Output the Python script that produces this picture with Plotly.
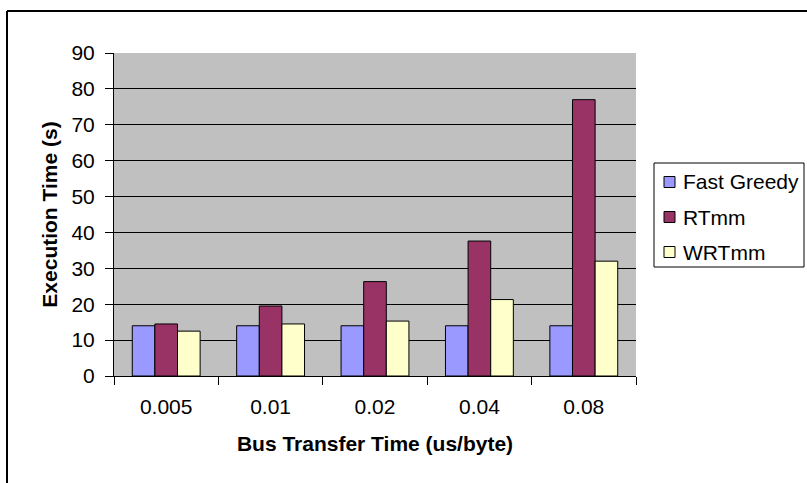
import plotly.graph_objects as go

# Bus transfer time categories (us/byte)
categories = ["0.005", "0.01", "0.02", "0.04", "0.08"]

# Execution time (s) per scheduler
fast_greedy = [14.0, 14.0, 14.0, 14.0, 14.0]
rtmm = [14.5, 19.5, 26.3, 37.6, 77.0]
wrtmm = [12.5, 14.5, 15.3, 21.3, 32.0]

series_names = ["Fast Greedy", "RTmm", "WRTmm"]
series_values = [fast_greedy, rtmm, wrtmm]
series_colors = ["#9999FF", "#993366", "#FFFFCC"]

font_family = "Liberation Sans, Arial, sans-serif"
FS = 21

fig = go.Figure()
for name, vals, color in zip(series_names, series_values, series_colors):
    fig.add_trace(go.Bar(
        x=categories, y=vals, name=name, showlegend=False,
        marker=dict(color=color, line=dict(color="#000000", width=1)),
    ))

W, H = 807, 483
L, R, T, B = 114, 636, 53, 376
pw, ph = R - L, B - T

def px_x(x):
    return (x - L) / pw

def px_y(y):
    return (B - y) / ph

# Legend box drawn beside the plot area (paper coordinates)
shapes = [
    # outer chart frame (left and top edges)
    dict(type="line", xref="paper", yref="paper",
         x0=px_x(7), x1=px_x(7), y0=px_y(490), y1=px_y(11),
         line=dict(color="#000000", width=2)),
    dict(type="line", xref="paper", yref="paper",
         x0=px_x(7), x1=px_x(815), y0=px_y(11), y1=px_y(11),
         line=dict(color="#000000", width=2)),
    # legend frame
    dict(type="rect", xref="paper", yref="paper",
         x0=px_x(654), x1=px_x(804), y0=px_y(163), y1=px_y(267),
         line=dict(color="#000000", width=1), fillcolor="#FFFFFF"),
]
annotations = []
legend_rows = [182, 217, 252]
for name, color, yc in zip(series_names, series_colors, legend_rows):
    shapes.append(dict(
        type="rect", xref="paper", yref="paper",
        x0=px_x(664), x1=px_x(675), y0=px_y(yc + 5.5), y1=px_y(yc - 5.5),
        line=dict(color="#000000", width=1), fillcolor=color,
    ))
    annotations.append(dict(
        xref="paper", yref="paper", x=px_x(681), y=px_y(yc),
        xanchor="left", yanchor="middle", showarrow=False, text=name,
        font=dict(family=font_family, size=FS, color="#000000"),
    ))

fig.update_layout(
    width=W, height=H,
    margin=dict(l=L, r=W - R, t=T, b=H - B, pad=0),
    paper_bgcolor="#FFFFFF",
    plot_bgcolor="#C0C0C0",
    barmode="group",
    bargap=0.35,
    bargroupgap=0,
    showlegend=False,
    font=dict(family=font_family, size=FS, color="#000000"),
    xaxis=dict(
        type="category",
        showline=True, linecolor="#000000", linewidth=1,
        ticks="outside", tickson="boundaries", ticklen=8, tickcolor="#000000",
        showgrid=False,
        tickfont=dict(family=font_family, size=FS),
        ticklabelstandoff=12,
        title=dict(text="<b>Bus Transfer Time (us/byte)</b>",
                   font=dict(family=font_family, size=FS), standoff=19),
    ),
    yaxis=dict(
        range=[0, 90], dtick=10,
        showline=True, linecolor="#000000", linewidth=1,
        ticks="outside", ticklen=8, tickcolor="#000000",
        showgrid=True, gridcolor="#000000", gridwidth=1,
        zeroline=False,
        tickfont=dict(family=font_family, size=FS),
        ticklabelstandoff=6,
        title=dict(text="<b>Execution Time (s)</b>",
                   font=dict(family=font_family, size=FS), standoff=8),
    ),
    shapes=shapes,
    annotations=annotations,
)

fig.write_html("out.html")
